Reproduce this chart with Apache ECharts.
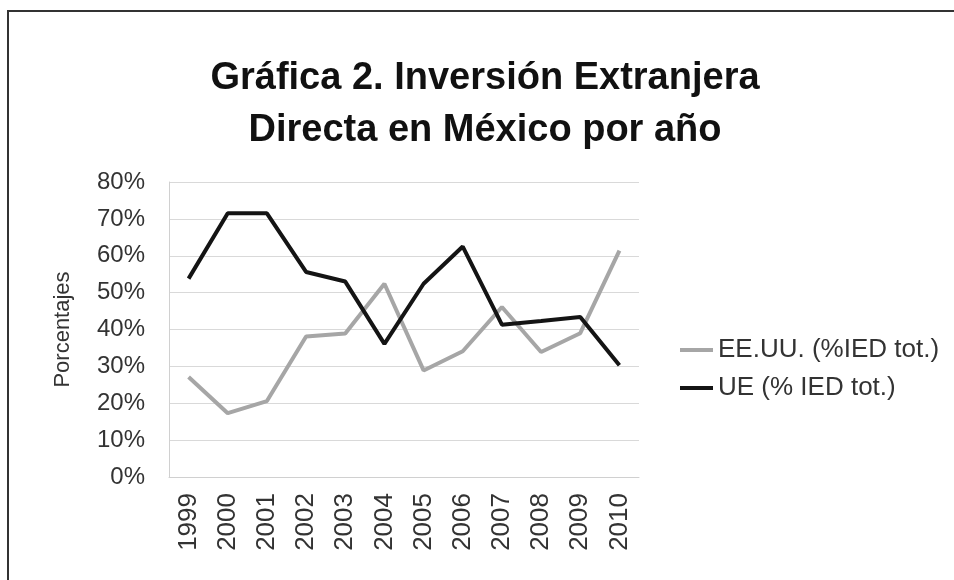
<!DOCTYPE html>
<html>
<head>
<meta charset="utf-8">
<script src="https://cdn.jsdelivr.net/npm/echarts@6/dist/echarts.min.js"></script>
<style>
  html, body { margin: 0; padding: 0; background: #fff; }
  #chart { width: 954px; height: 580px; }
</style>
</head>
<body>
<div id="chart"></div>
<script>
// años
const years = ['1999', '2000', '2001', '2002', '2003', '2004', '2005', '2006', '2007', '2008', '2009', '2010'];
// % de la IED total
const eeuu = [27.1, 17.3, 20.6, 38.1, 38.9, 52.4, 28.9, 34.1, 46.1, 33.9, 39.0, 61.4];
const ue = [53.8, 71.5, 71.5, 55.6, 53.0, 36.1, 52.4, 62.5, 41.3, 42.3, 43.4, 30.3];

const font = 'Liberation Sans, Arial, sans-serif';

const chart = echarts.init(document.getElementById('chart'));

chart.setOption({
  backgroundColor: '#fff',
  animation: false,
  title: {
    text: 'Gráfica 2. Inversión Extranjera\nDirecta en México por año',
    left: 480,
    top: 48,
    textAlign: 'center',
    textStyle: {
      fontFamily: font,
      fontSize: 38,
      fontWeight: 'bold',
      color: '#111',
      lineHeight: 52,
    },
  },
  graphic: [{
    type: 'rect',
    z: -1,
    shape: { x: 8, y: 11, width: 1000, height: 700 },
    style: { fill: 'none', stroke: '#333', lineWidth: 2 },
  }],
  legend: {
    orient: 'vertical',
    left: 675,
    top: 332,
    icon: 'rect',
    itemWidth: 33,
    itemHeight: 4,
    itemGap: 12,
    textStyle: { fontFamily: font, fontSize: 26, color: '#333' },
    data: ['EE.UU. (%IED tot.)', 'UE (% IED tot.)'],
  },
  grid: { left: 169, top: 182, right: 315, bottom: 103 },
  xAxis: {
    type: 'category',
    data: years,
    boundaryGap: true,
    axisLine: { lineStyle: { color: '#d0d0d0', width: 1 } },
    axisTick: { show: false },
    axisLabel: {
      rotate: 90,
      margin: 16,
      fontFamily: font,
      fontSize: 26,
      color: '#333',
    },
  },
  yAxis: {
    type: 'value',
    min: 0,
    max: 80,
    interval: 10,
    name: 'Porcentajes',
    nameLocation: 'middle',
    nameGap: 95,
    nameTextStyle: { fontFamily: font, fontSize: 22, color: '#333' },
    axisLine: { show: true, lineStyle: { color: '#d0d0d0', width: 1 } },
    axisTick: { show: false },
    axisLabel: {
      formatter: '{value}%',
      margin: 24,
      fontFamily: font,
      fontSize: 24,
      color: '#333',
    },
    splitLine: { lineStyle: { color: '#d9d9d9', width: 1 } },
  },
  series: [
    {
      name: 'EE.UU. (%IED tot.)',
      type: 'line',
      data: eeuu,
      symbol: 'none',
      lineStyle: { color: '#a6a6a6', width: 4 },
      itemStyle: { color: '#a6a6a6' },
    },
    {
      name: 'UE (% IED tot.)',
      type: 'line',
      data: ue,
      symbol: 'none',
      lineStyle: { color: '#141414', width: 4 },
      itemStyle: { color: '#141414' },
    },
  ],
});
</script>
</body>
</html>
